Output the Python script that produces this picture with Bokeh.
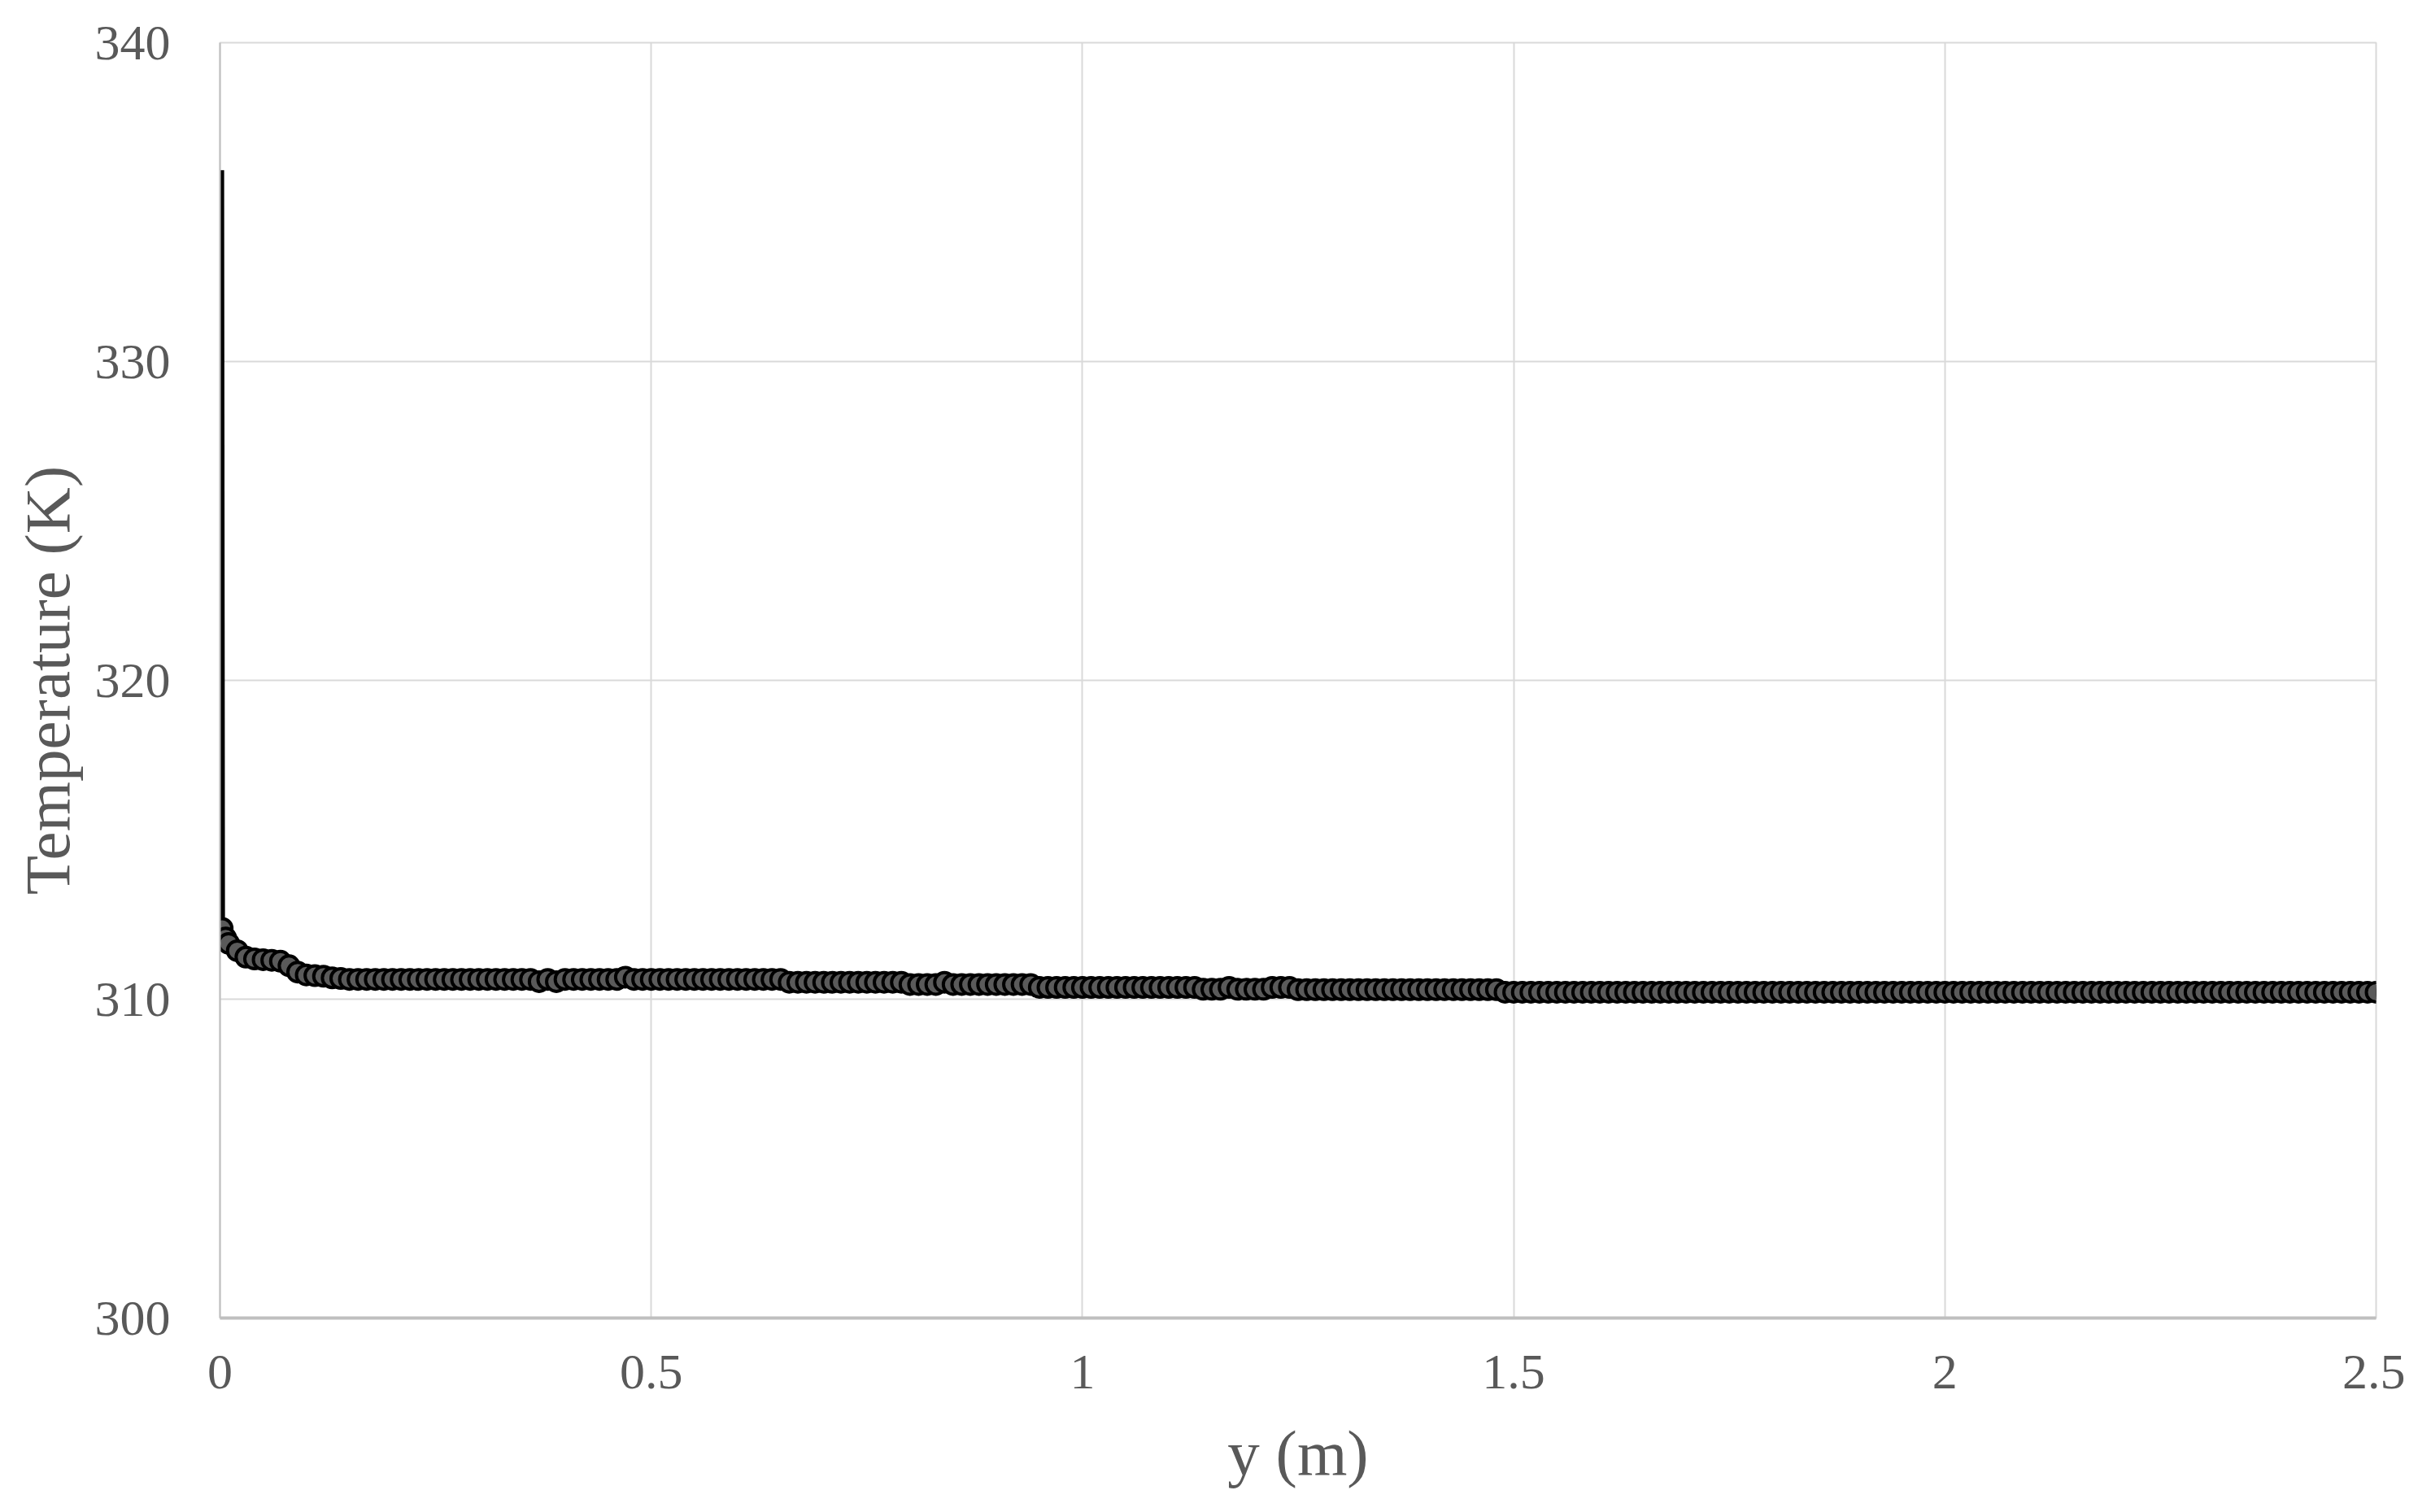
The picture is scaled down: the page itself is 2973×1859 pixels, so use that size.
from bokeh.plotting import figure
from bokeh.models import Range1d, FixedTicker
from bokeh.embed import file_html
from bokeh.resources import INLINE

# distance from the wall (mm) and temperature (K)
y_mm = [
    1.5, 2.5, 6.5, 10,
    20, 30, 40, 50, 60, 70, 80, 90, 100, 110, 120, 130, 140, 150, 160, 170, 180, 190, 200, 210,
    220, 230, 240, 250, 260, 270, 280, 290, 300, 310, 320, 330, 340, 350, 360, 370, 380, 390, 400, 410,
    420, 430, 440, 450, 460, 470, 480, 490, 500, 510, 520, 530, 540, 550, 560, 570, 580, 590, 600, 610,
    620, 630, 640, 650, 660, 670, 680, 690, 700, 710, 720, 730, 740, 750, 760, 770, 780, 790, 800, 810,
    820, 830, 840, 850, 860, 870, 880, 890, 900, 910, 920, 930, 940, 950, 960, 970, 980, 990, 1000, 1010,
    1020, 1030, 1040, 1050, 1060, 1070, 1080, 1090, 1100, 1110, 1120, 1130, 1140, 1150, 1160, 1170, 1180, 1190, 1200, 1210,
    1220, 1230, 1240, 1250, 1260, 1270, 1280, 1290, 1300, 1310, 1320, 1330, 1340, 1350, 1360, 1370, 1380, 1390, 1400, 1410,
    1420, 1430, 1440, 1450, 1460, 1470, 1480, 1490, 1500, 1510, 1520, 1530, 1540, 1550, 1560, 1570, 1580, 1590, 1600, 1610,
    1620, 1630, 1640, 1650, 1660, 1670, 1680, 1690, 1700, 1710, 1720, 1730, 1740, 1750, 1760, 1770, 1780, 1790, 1800, 1810,
    1820, 1830, 1840, 1850, 1860, 1870, 1880, 1890, 1900, 1910, 1920, 1930, 1940, 1950, 1960, 1970, 1980, 1990, 2000, 2010,
    2020, 2030, 2040, 2050, 2060, 2070, 2080, 2090, 2100, 2110, 2120, 2130, 2140, 2150, 2160, 2170, 2180, 2190, 2200, 2210,
    2220, 2230, 2240, 2250, 2260, 2270, 2280, 2290, 2300, 2310, 2320, 2330, 2340, 2350, 2360, 2370, 2380, 2390, 2400, 2410,
    2420, 2430, 2440, 2450, 2460, 2470, 2480, 2490, 2500,
]
temp_K = [
    336.0, 312.22, 311.92, 311.75,
    311.52, 311.32, 311.26, 311.24, 311.22, 311.19, 311.05, 310.85, 310.76, 310.74, 310.72, 310.67, 310.65, 310.62, 310.62, 310.62, 310.62, 310.62, 310.62, 310.62,
    310.62, 310.62, 310.62, 310.62, 310.62, 310.62, 310.62, 310.62, 310.62, 310.62, 310.62, 310.62, 310.62, 310.62, 310.62, 310.55, 310.62, 310.55, 310.62, 310.62,
    310.62, 310.62, 310.62, 310.62, 310.62, 310.69, 310.62, 310.62, 310.62, 310.62, 310.62, 310.62, 310.62, 310.62, 310.62, 310.62, 310.62, 310.62, 310.62, 310.62,
    310.62, 310.62, 310.62, 310.62, 310.53, 310.53, 310.53, 310.53, 310.53, 310.53, 310.53, 310.53, 310.53, 310.53, 310.53, 310.53, 310.53, 310.53, 310.46, 310.46,
    310.46, 310.46, 310.53, 310.46, 310.46, 310.46, 310.46, 310.46, 310.46, 310.46, 310.46, 310.46, 310.46, 310.37, 310.37, 310.37, 310.37, 310.37, 310.37, 310.37,
    310.37, 310.37, 310.37, 310.37, 310.37, 310.37, 310.37, 310.37, 310.37, 310.37, 310.37, 310.37, 310.31, 310.31, 310.31, 310.37, 310.31, 310.31, 310.31, 310.31,
    310.37, 310.37, 310.37, 310.30, 310.30, 310.30, 310.30, 310.30, 310.30, 310.30, 310.30, 310.30, 310.30, 310.30, 310.30, 310.30, 310.30, 310.30, 310.30, 310.30,
    310.30, 310.30, 310.30, 310.30, 310.30, 310.30, 310.30, 310.22, 310.22, 310.22, 310.22, 310.22, 310.22, 310.22, 310.22, 310.22, 310.22, 310.22, 310.22, 310.22,
    310.22, 310.22, 310.22, 310.22, 310.22, 310.22, 310.22, 310.22, 310.22, 310.22, 310.22, 310.22, 310.22, 310.22, 310.22, 310.22, 310.22, 310.22, 310.22, 310.22,
    310.22, 310.22, 310.22, 310.22, 310.22, 310.22, 310.22, 310.22, 310.22, 310.22, 310.22, 310.22, 310.22, 310.22, 310.22, 310.22, 310.22, 310.22, 310.22, 310.22,
    310.22, 310.22, 310.22, 310.22, 310.22, 310.22, 310.22, 310.22, 310.22, 310.22, 310.22, 310.22, 310.22, 310.22, 310.22, 310.22, 310.22, 310.22, 310.22, 310.22,
    310.22, 310.22, 310.22, 310.22, 310.22, 310.22, 310.22, 310.22, 310.22, 310.22, 310.22, 310.22, 310.22, 310.22, 310.22, 310.22, 310.22, 310.22, 310.22, 310.22,
    310.22, 310.22, 310.22, 310.22, 310.22, 310.22, 310.22, 310.22, 310.22,
]
x_ticks = [0, 0.5, 1, 1.5, 2, 2.5]
x_tick_labels = ["0", "0.5", "1", "1.5", "2", "2.5"]
y_ticks = [300, 310, 320, 330, 340]

y_m = [v / 1000 for v in y_mm]

FONT = "Liberation Serif"
TXT = "#595959"

p = figure(width=2957, height=1843, x_range=Range1d(0, 2.5), y_range=Range1d(300, 340),
           output_backend="svg", toolbar_location=None,
           min_border_left=270, min_border_right=36, min_border_top=52, min_border_bottom=223)
p.background_fill_color = "white"
p.outline_line_color = "#d9d9d9"
p.outline_line_width = 2

p.xaxis.ticker = FixedTicker(ticks=x_ticks)
p.xaxis.major_label_overrides = {t: s for t, s in zip(x_ticks, x_tick_labels)}
p.yaxis.ticker = FixedTicker(ticks=y_ticks)
p.xaxis.axis_label = "y (m)"
p.yaxis.axis_label = "Temperature (K)"

for ax in (p.xaxis, p.yaxis):
    ax.major_tick_line_color = None
    ax.minor_tick_line_color = None
    ax.major_label_text_font = FONT
    ax.major_label_text_font_size = "62px"
    ax.major_label_text_color = TXT
    ax.axis_label_text_font = FONT
    ax.axis_label_text_font_size = "79px"
    ax.axis_label_text_font_style = "normal"
    ax.axis_label_text_color = TXT
    ax.axis_line_color = "#bfbfbf"
p.xaxis.axis_line_width = 4
p.yaxis.axis_line_width = 2
p.xaxis.major_label_standoff = 40
p.yaxis.major_label_standoff = 55
p.xaxis.axis_label_standoff = 33
p.yaxis.axis_label_standoff = 12

p.xgrid.grid_line_color = "#d9d9d9"
p.ygrid.grid_line_color = "#d9d9d9"
p.xgrid.grid_line_width = 2
p.ygrid.grid_line_width = 2

p.line(y_m, temp_K, color="black", line_width=7)
p.scatter(y_m[1:], temp_K[1:], size=24, fill_color="#5a5a5a", line_color="black", line_width=4)

open("out.html", "w").write(file_html(p, INLINE))
